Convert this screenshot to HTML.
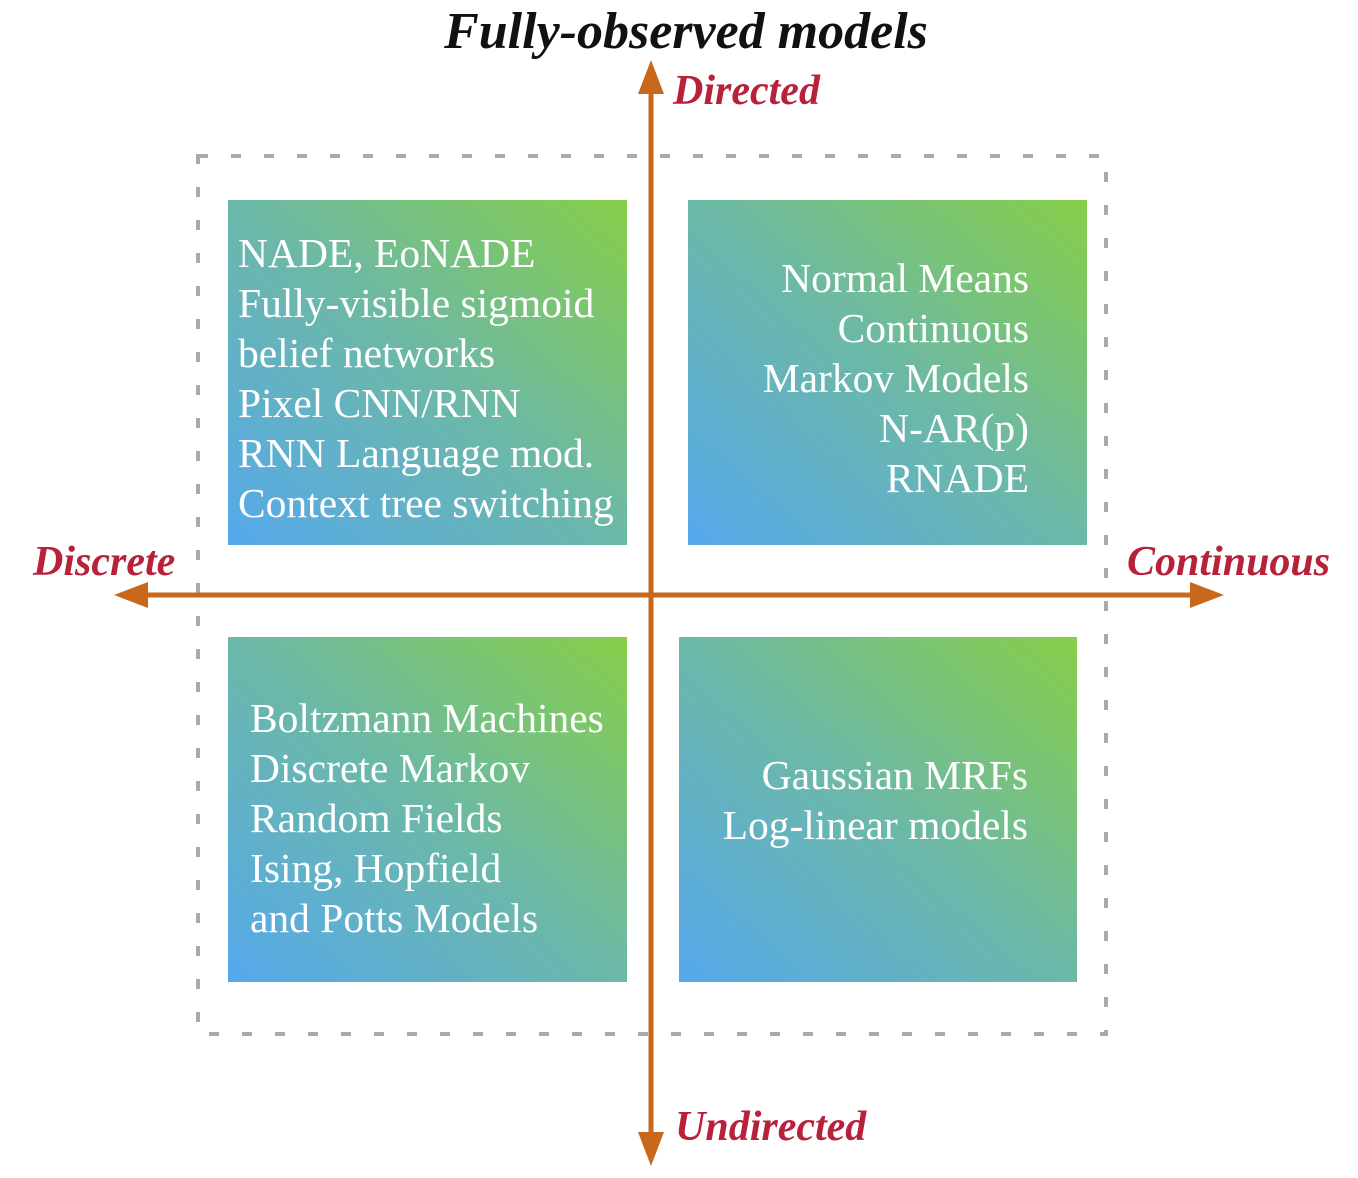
<!DOCTYPE html>
<html><head><meta charset="utf-8"><style>
body{margin:0;width:1358px;height:1178px;background:#fff;position:relative;overflow:hidden;font-family:"Liberation Serif",serif}
.t{position:absolute;white-space:nowrap}
.box{position:absolute;background:linear-gradient(to top right,#55a8ec 0%,#6cb8a8 50%,#86ce48 100%);color:#fff;font-size:41.5px;line-height:50px;box-sizing:border-box;white-space:nowrap}
.lab{position:absolute;color:#b8213a;font-weight:bold;font-style:italic;font-size:42px;white-space:nowrap}
</style></head><body>
<div class="t" style="left:0;width:1372px;text-align:center;top:2px;font-size:52px;font-weight:bold;font-style:italic;color:#111">Fully-observed models</div>
<svg width="1358" height="1178" style="position:absolute;left:0;top:0">
<rect x="198" y="156" width="908" height="878" fill="none" stroke="#aaa" stroke-width="4" stroke-dasharray="10 23"/>
</svg>
<div class="box" style="left:228px;top:200px;width:399px;height:345px;padding:28px 0 0 10px">NADE, EoNADE<br>Fully-visible sigmoid<br>belief networks<br>Pixel CNN/RNN<br>RNN Language mod.<br>Context tree switching</div>
<div class="box" style="left:688px;top:200px;width:399px;height:345px;padding:53px 58px 0 0;text-align:right">Normal Means<br>Continuous<br>Markov Models<br>N-AR(p)<br>RNADE</div>
<div class="box" style="left:228px;top:637px;width:399px;height:345px;padding:56px 0 0 22px">Boltzmann Machines<br>Discrete Markov<br>Random Fields<br>Ising, Hopfield<br>and Potts Models</div>
<div class="box" style="left:679px;top:637px;width:398px;height:345px;padding:113px 49px 0 0;text-align:right">Gaussian MRFs<br>Log-linear models</div>
<svg width="1358" height="1178" style="position:absolute;left:0;top:0">
<g stroke="#c8681c" stroke-width="5" fill="#c8681c">
<line x1="651" y1="88" x2="651" y2="1140"/>
<line x1="140" y1="595" x2="1198" y2="595"/>
</g>
<g fill="#c8681c">
<polygon points="651,60 638,94 664,94"/>
<polygon points="651,1166 638,1132 664,1132"/>
<polygon points="114,595 148,582 148,608"/>
<polygon points="1224,595 1190,582 1190,608"/>
</g>
</svg>
<div class="lab" style="left:673px;top:67px">Directed</div>
<div class="lab" style="left:675px;top:1103px">Undirected</div>
<div class="lab" style="left:33px;top:538px">Discrete</div>
<div class="lab" style="left:1127px;top:538px">Continuous</div>
</body></html>
